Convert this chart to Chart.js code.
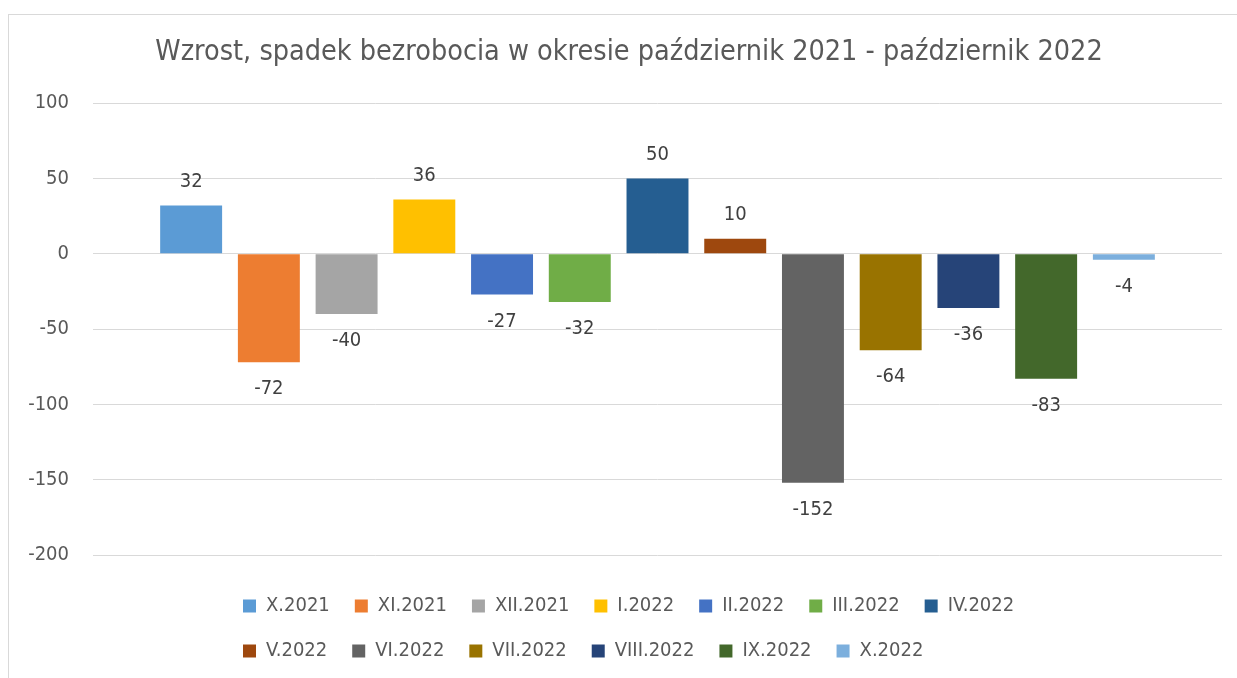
<!DOCTYPE html>
<html>
<head>
<meta charset="utf-8">
<script src="https://cdn.jsdelivr.net/npm/chart.js@4"></script>
<style>
  html, body { margin: 0; padding: 0; background: #fff; }
  #wrap { position: relative; width: 1237px; height: 678px; }
</style>
</head>
<body>
<div id="wrap"><canvas id="chart_unemployment"></canvas></div>
<script>
var months = ['X.2021', 'XI.2021', 'XII.2021', 'I.2022', 'II.2022', 'III.2022', 'IV.2022',
              'V.2022', 'VI.2022', 'VII.2022', 'VIII.2022', 'IX.2022', 'X.2022'];
var changes = [32, -72, -40, 36, -27, -32, 50, 10, -152, -64, -36, -83, -4];
var colors = ['#5b9bd5', '#ed7d31', '#a5a5a5', '#ffc000', '#4472c4', '#70ad47', '#255e91',
              '#9e480e', '#636363', '#997300', '#264478', '#43682b', '#7cafdd'];
var yMin = -200, yMax = 100, yStep = 50;

var fontFamily = '"DejaVu Sans Condensed", "DejaVu Sans", sans-serif';
Chart.defaults.font.family = fontFamily;
Chart.defaults.color = '#595959';

var datasets = months.map(function (m, i) {
    return {
        label: m,
        data: [changes[i]],
        backgroundColor: colors[i],
        borderWidth: 0,
        barPercentage: 0.797,
        categoryPercentage: 0.895
    };
});

var chart_unemployment = new Chart(document.getElementById('chart_unemployment'), {
    type: 'bar',
    data: {
        labels: [''],
        datasets: datasets
    },
    options: {
        animation: false,
        responsive: true,
        maintainAspectRatio: false,
        events: [],
        layout: {
            padding: { top: 0, left: 0, right: 15, bottom: 7 }
        },
        plugins: {
            title: {
                display: true,
                text: 'Wzrost, spadek bezrobocia w okresie październik 2021 - październik 2022',
                color: '#595959',
                font: { size: 28.5, weight: 'normal' },
                padding: { top: 35, bottom: 34 }
            },
            legend: {
                position: 'bottom',
                align: 'start',
                labels: {
                    boxWidth: 13,
                    boxHeight: 13,
                    padding: 25,
                    color: '#595959',
                    font: { size: 20 }
                }
            },
            tooltip: { enabled: false }
        },
        scales: {
            x: {
                display: true,
                ticks: { display: false },
                grid: { display: false, drawTicks: true, tickLength: 16 },
                border: { display: false }
            },
            y: {
                min: yMin,
                max: yMax,
                ticks: {
                    stepSize: yStep,
                    padding: 24,
                    color: '#595959',
                    font: { size: 20 }
                },
                grid: { color: '#d9d9d9', lineWidth: 1, drawTicks: false },
                border: { display: false },
                afterFit: function (scale) { scale.width = 93; }
            }
        }
    },
    plugins: [{
        id: 'customPlugin',
        beforeDraw: (chart, args, options) => {
            const ctx = chart.canvas.getContext('2d');
            ctx.save();
            ctx.globalCompositeOperation = 'destination-over';
            ctx.fillStyle = 'white';
            ctx.fillRect(0, 0, chart.canvas.width, chart.canvas.height);
            ctx.restore();
            ctx.save();
            ctx.strokeStyle = '#d9d9d9';
            ctx.lineWidth = 1;
            ctx.strokeRect(8.5, 14.5, chart.width + 20, chart.height + 20);
            ctx.restore();
        },
        afterLayout: (chart) => {
            // title centred on the whole frame, legend in a 7-column block like the Excel original
            chart.titleBlock.left = 21;
            chart.titleBlock.right = chart.width;
            chart.legend.left = 218;
            chart.legend.right = 1100;
        },
        afterDatasetsDraw: (chart) => {
            const ctx = chart.ctx;
            ctx.save();
            ctx.font = '20px ' + fontFamily;
            ctx.fillStyle = '#404040';
            ctx.textAlign = 'center';
            ctx.textBaseline = 'middle';
            chart.data.datasets.forEach((ds, i) => {
                const bar = chart.getDatasetMeta(i).data[0];
                const v = ds.data[0];
                ctx.fillText(String(v), bar.x, v >= 0 ? bar.y - 24 : bar.y + 27);
            });
            ctx.restore();
        }
    }]
});
</script>
</body>
</html>
